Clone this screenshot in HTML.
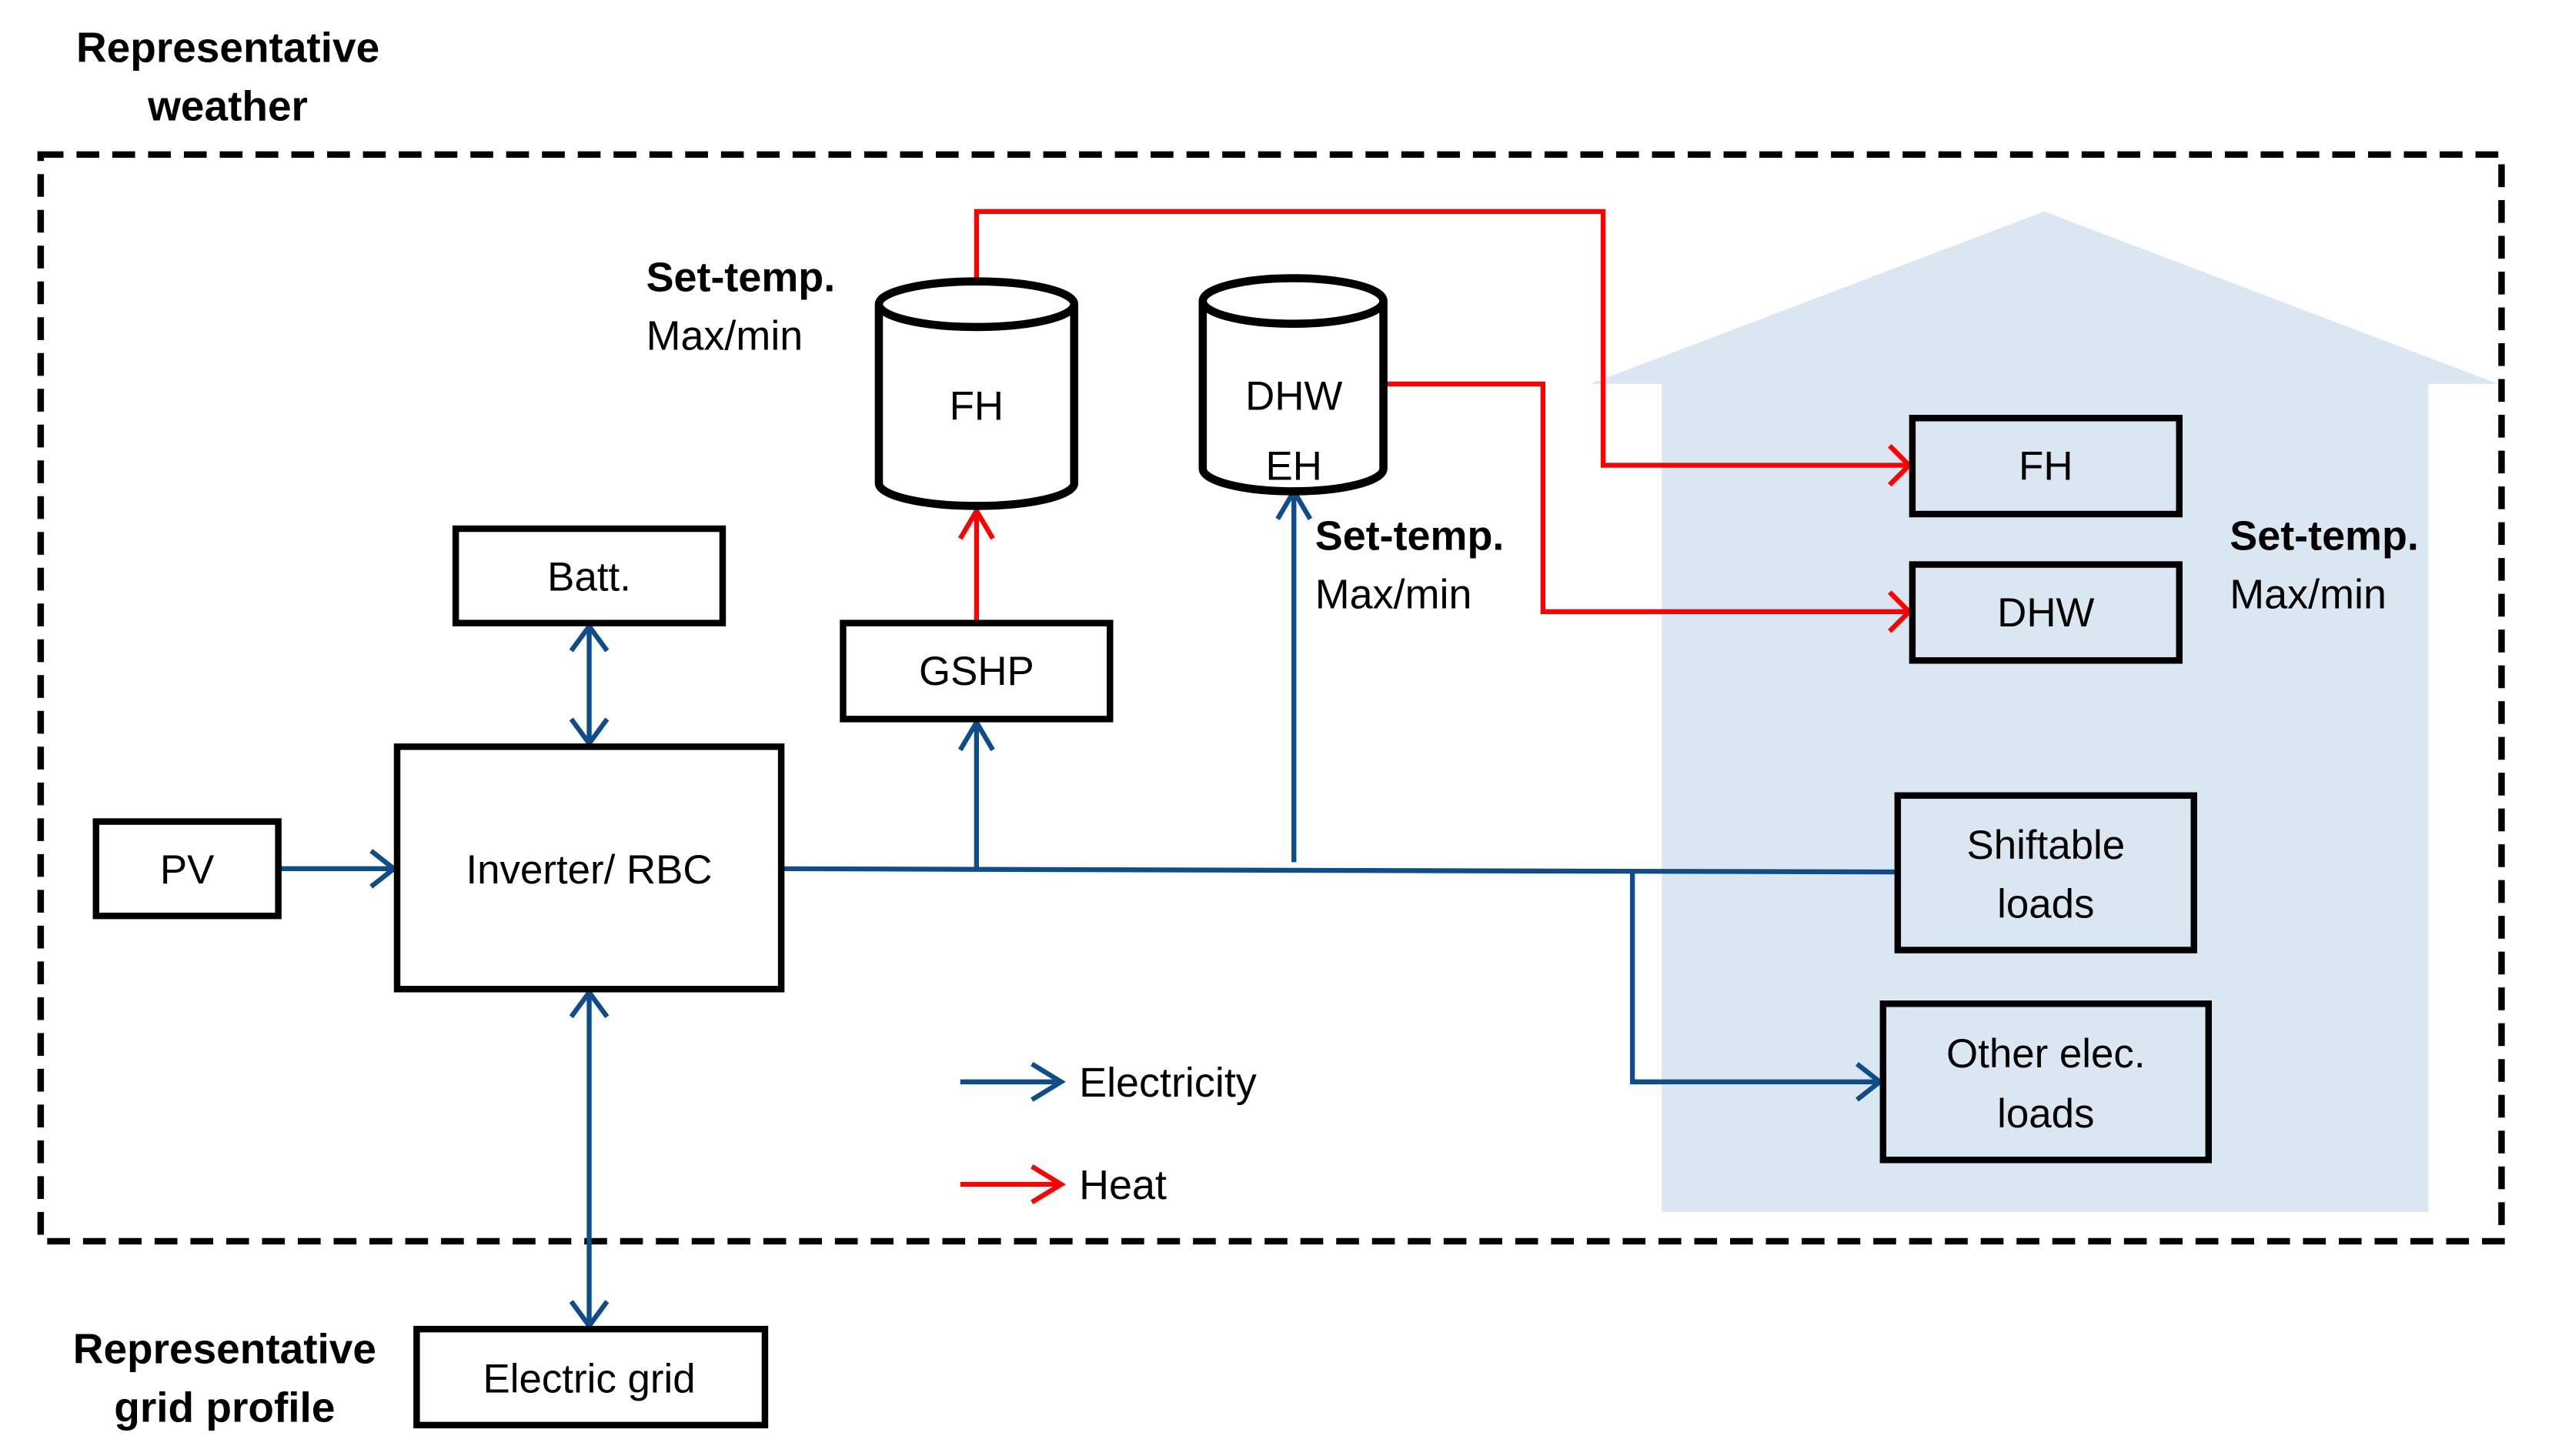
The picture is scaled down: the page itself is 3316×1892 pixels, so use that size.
<!DOCTYPE html>
<html><head><style>html,body{margin:0;padding:0;background:#fff}svg{display:block}</style></head><body>
<svg width="3316" height="1892" viewBox="0 0 1568 895" preserveAspectRatio="none" xmlns="http://www.w3.org/2000/svg" font-family="'Liberation Sans', sans-serif">
<polygon points="977,236 1256,130 1535,236 1492,236 1492,745 1021,745 1021,236" fill="#dae6f1"/>
<rect x="25" y="95" width="1512" height="668" fill="none" stroke="#000" stroke-width="4" stroke-dasharray="14,8"/>
<g font-weight="bold" font-size="26" text-anchor="middle">
<text x="140" y="38">Representative</text><text x="140" y="74">weather</text>
<text x="138" y="838">Representative</text><text x="138" y="874">grid profile</text>
</g>
<g font-size="25.5">
<text x="397" y="179" font-weight="bold">Set-temp.</text><text x="397" y="215">Max/min</text>
<text x="808" y="338" font-weight="bold">Set-temp.</text><text x="808" y="374">Max/min</text>
<text x="1370" y="338" font-weight="bold">Set-temp.</text><text x="1370" y="374">Max/min</text>
<text x="663" y="674">Electricity</text><text x="663" y="737">Heat</text>
</g>
<g stroke="#ff0000" stroke-width="3" fill="none">
<polyline points="600,172 600,130 985,130 985,286 1173,286"/>
<polyline points="1161,274 1173,286 1161,298"/>
<polyline points="850,236 948,236 948,376 1173,376"/>
<polyline points="1161,364 1173,376 1161,388"/>
<line x1="600" y1="383" x2="600" y2="314"/>
<polyline points="590,331 600,314 610,331"/>
<line x1="590" y1="728" x2="652" y2="728"/>
<polyline points="634,717 652,728 634,739"/>
</g>
<g stroke="#0e4c8a" stroke-width="3" fill="none">
<line x1="171" y1="534" x2="242" y2="534"/><polyline points="228,523 242,534 228,545"/>
<line x1="362" y1="385" x2="362" y2="457"/><polyline points="351,400 362,385 373,400"/><polyline points="351,442 362,457 373,442"/>
<line x1="362" y1="610" x2="362" y2="815"/><polyline points="351,625 362,610 373,625"/><polyline points="351,800 362,815 373,800"/>
<polyline points="480,534 800,535 1166,536"/>
<line x1="600" y1="534" x2="600" y2="444"/><polyline points="590,461 600,444 610,461"/>
<line x1="795" y1="530" x2="795" y2="302"/><polyline points="785,319 795,302 805,319"/>
<polyline points="1003,536 1003,665 1155,665"/><polyline points="1141,654 1155,665 1141,676"/>
<line x1="590" y1="665" x2="652" y2="665"/><polyline points="634,654 652,665 634,676"/>
</g>
<g stroke="#000" stroke-width="5" fill="#fff">
<path d="M540,187 L540,297 A60,14 0 0 0 660,297 L660,187"/>
<ellipse cx="600" cy="187" rx="60" ry="14"/>
<path d="M739,185 L739,288 A55.5,14 0 0 0 850,288 L850,185"/>
<ellipse cx="794.5" cy="185" rx="55.5" ry="14"/>
</g>
<g stroke="#000" stroke-width="4" fill="#fff">
<rect x="280" y="325" width="164" height="58"/>
<rect x="518" y="383" width="164" height="59"/>
<rect x="244" y="459" width="236" height="149"/>
<rect x="59" y="505" width="112" height="58"/>
<rect x="1175" y="257" width="164" height="59" fill="none"/>
<rect x="1175" y="347" width="164" height="59" fill="none"/>
<rect x="1166" y="489" width="182" height="95" fill="none"/>
<rect x="1157" y="617" width="200" height="96" fill="none"/>
<rect x="256" y="817" width="214" height="59"/>
</g>
<g font-size="25" text-anchor="middle">
<text x="600" y="258">FH</text>
<text x="795" y="252">DHW</text><text x="795" y="295">EH</text>
<text x="362" y="363">Batt.</text>
<text x="600" y="421">GSHP</text>
<text x="362" y="543">Inverter/ RBC</text>
<text x="115" y="543">PV</text>
<text x="1257" y="295">FH</text>
<text x="1257" y="385">DHW</text>
<text x="1257" y="528">Shiftable</text><text x="1257" y="564">loads</text>
<text x="1257" y="656">Other elec.</text><text x="1257" y="693">loads</text>
<text x="362" y="856">Electric grid</text>
</g>
</svg>
</body></html>
